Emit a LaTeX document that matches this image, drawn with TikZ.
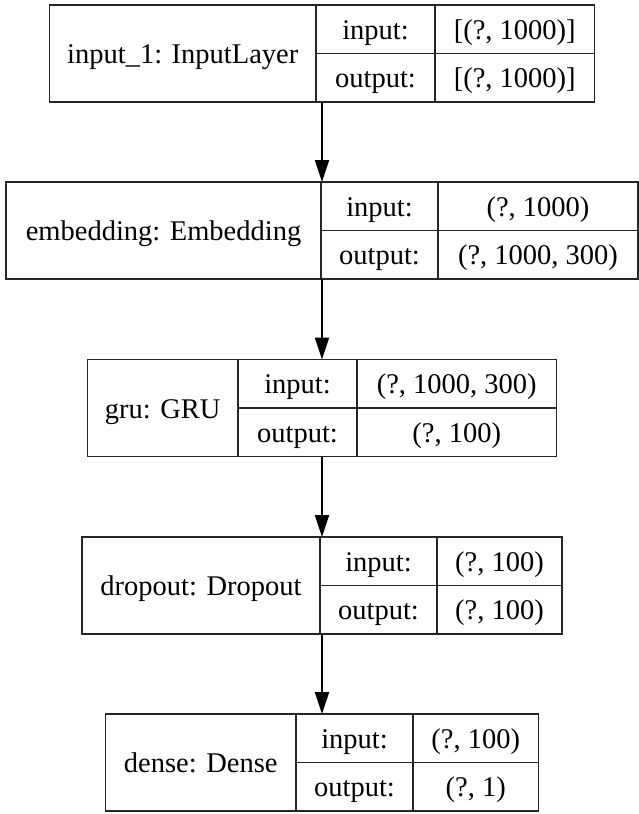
\documentclass[tikz,border=0pt]{standalone}
\usepackage{fontspec}
\setmainfont{Liberation Serif}
\usetikzlibrary{arrows.meta}

\tikzset{
  frame/.style={draw=black!85, line width=1.8pt, inner sep=0pt, outer sep=0pt, fill=white},
  divider/.style={draw=black!85, line width=1.8pt},
  txt/.style={inner sep=0pt, anchor=base, font=\fontsize{28.5}{34}\selectfont},
  flow/.style={draw=black, line width=1.8pt, -{Triangle[length=22pt,width=14pt]}}
}

% \layerbox{name}{top}{left}{split1}{split2}{right}{label}{input shape}{output shape}
\newcommand\layerbox[9]{%
  \node[frame, anchor=north west, minimum width={#6-#3}, minimum height=97] (#1) at (#3,#2) {};
  \draw[divider] (#4,#2) -- (#4,#2+97);
  \draw[divider] (#5,#2) -- (#5,#2+97);
  \draw[divider] (#4,#2+48.5) -- (#6,#2+48.5);
  \node[txt] (#1-label) at ({(#3+#4)/2},#2+58.5) {#7};
  \node[txt] (#1-inkey) at ({(#4+#5)/2},#2+34.25) {input:};
  \node[txt] (#1-inval) at ({(#5+#6)/2},#2+34.25) {#8};
  \node[txt] (#1-outkey) at ({(#4+#5)/2},#2+82.75) {output:};
  \node[txt] (#1-outval) at ({(#5+#6)/2},#2+82.75) {#9};
}

\begin{document}
\begin{tikzpicture}[x=1pt,y=-1pt]
  \useasboundingbox (0,0) rectangle (639,814);

  \layerbox{L1}{5}{49.5}{316}{435}{594.5}{input\_1: InputLayer}{[(?, 1000)]}{[(?, 1000)]}
  \layerbox{L2}{182}{6}{321}{438}{638}{embedding: Embedding}{(?, 1000)}{(?, 1000, 300)}
  \layerbox{L3}{359.5}{87.5}{238}{357}{556.5}{gru: GRU}{(?, 1000, 300)}{(?, 100)}
  \layerbox{L4}{537}{82}{320}{437}{562}{dropout: Dropout}{(?, 100)}{(?, 100)}
  \layerbox{L5}{714}{105.5}{296}{413}{538.5}{dense: Dense}{(?, 100)}{(?, 1)}

  \draw[flow] (L1.south) -- (L2.north);
  \draw[flow] (L2.south) -- (L3.north);
  \draw[flow] (L3.south) -- (L4.north);
  \draw[flow] (L4.south) -- (L5.north);
\end{tikzpicture}
\end{document}
